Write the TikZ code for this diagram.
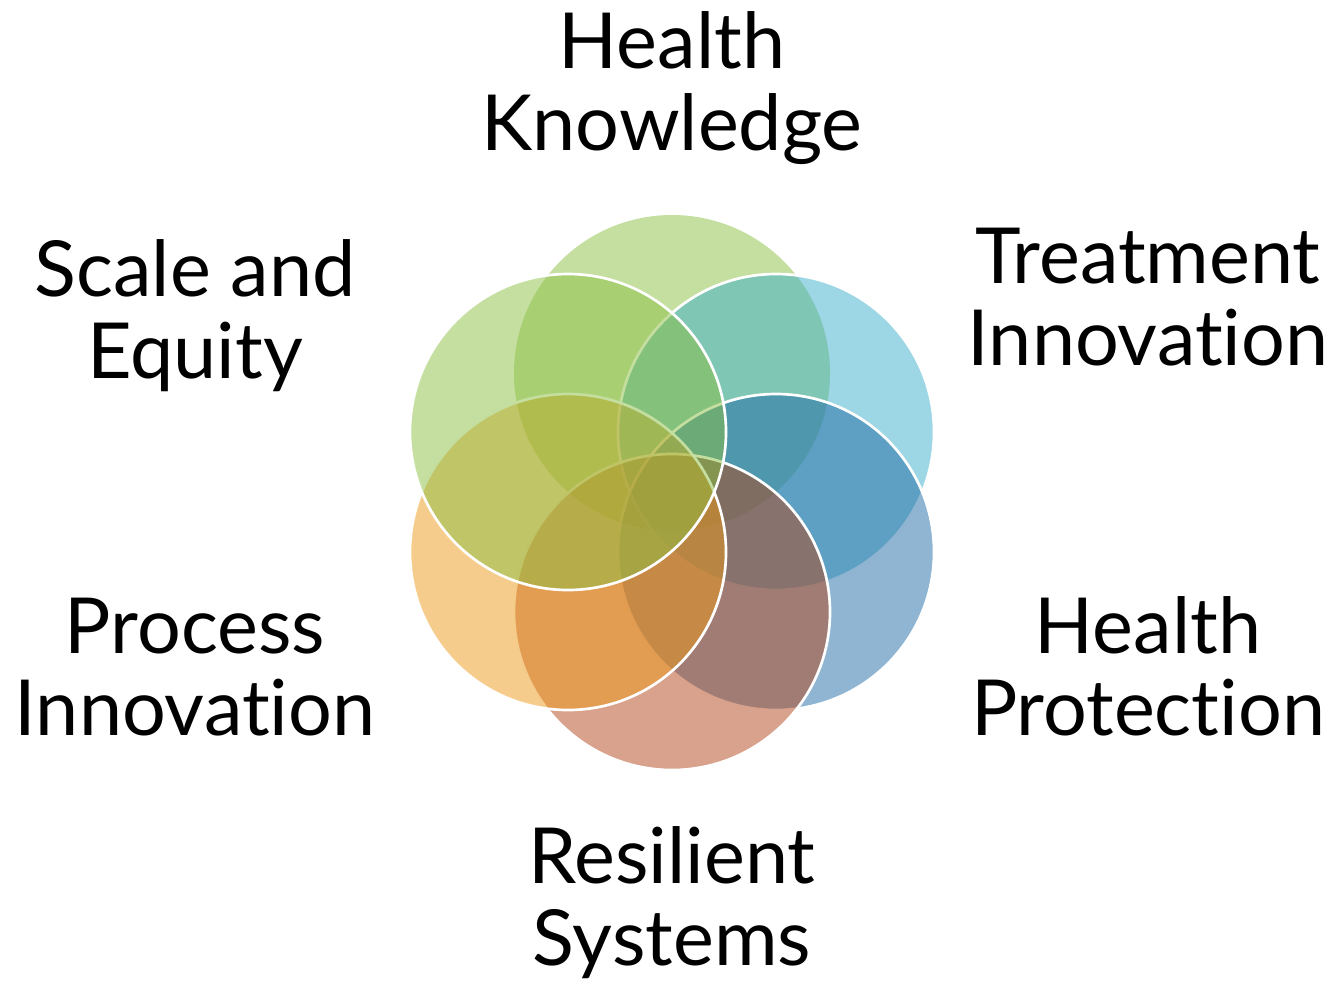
\documentclass[tikz,border=0pt]{standalone}
\usepackage{fontspec}
\setmainfont{Lato}[Ligatures=NoCommon]
\usepackage{tikz}

\begin{document}
\begin{tikzpicture}[x=0.75pt,y=0.75pt,yscale=-1,xscale=1]
\tikzset{petal/.style={draw=white,line width=2pt,fill opacity=0.5,draw opacity=1},
         caption/.style={align=center,anchor=base,inner sep=0pt,font=\fontsize{58}{61.5}\selectfont}}
\useasboundingbox (0,0) rectangle (1333,983);
              \fill  [fill={rgb, 255:red, 139; green, 191; blue, 67 },fill opacity=0.5] (672,373) circle [radius=158] ;
              \draw  [petal,fill={rgb, 255:red, 59; green, 173; blue, 203 }] (776,432) circle [radius=158] ;
              \draw  [petal,fill={rgb, 255:red, 31; green, 107; blue, 165 }] (776,552) circle [radius=158] ;
              \draw  [petal,fill={rgb, 255:red, 179; green, 69; blue, 25 }] (672,612) circle [radius=158] ;
              \draw  [petal,fill={rgb, 255:red, 237; green, 153; blue, 25 }] (568,552) circle [radius=158] ;
              \draw  [petal,fill={rgb, 255:red, 139; green, 191; blue, 67 }] (568,432) circle [radius=158] ;
              \node [caption] (knowledge) at (672,150) {Health\\Knowledge};
              \node [caption] (treatment) at (1148,365) {Treatment\\Innovation};
              \node [caption] (protection) at (1148,735) {Health\\Protection};
              \node [caption] (resilient) at (672,965) {Resilient\\Systems};
              \node [caption] (process) at (195,735) {Process\\Innovation};
              \node [caption] (scale) at (195,378) {Scale and\\Equity};
              \end{tikzpicture}
\end{document}
